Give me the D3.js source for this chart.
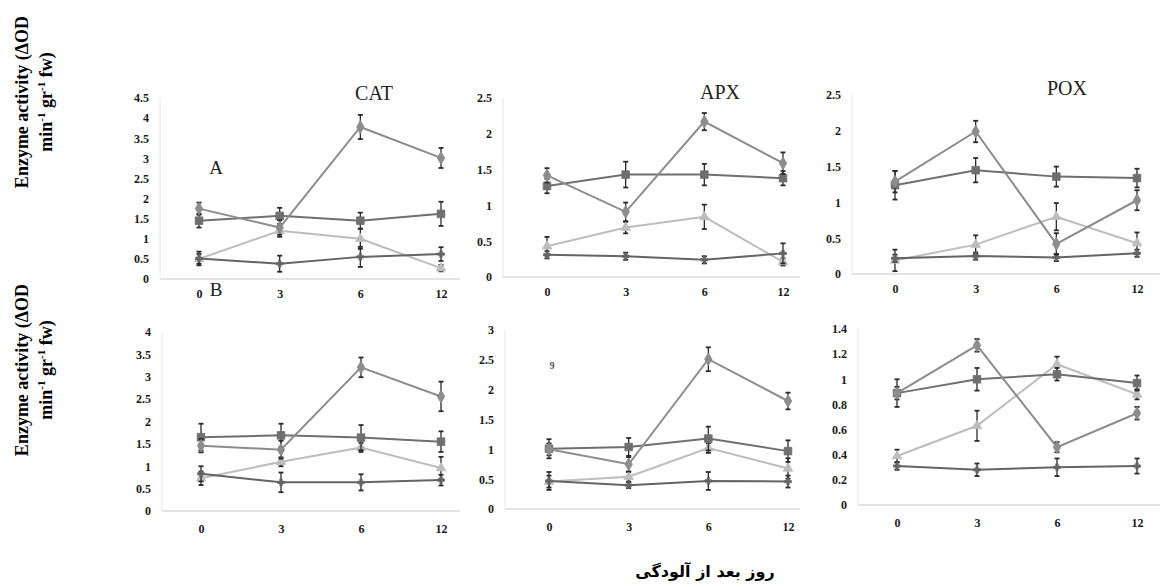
<!DOCTYPE html>
<html><head><meta charset="utf-8">
<script src="https://cdn.jsdelivr.net/npm/d3@7"></script>
<style>
html,body{margin:0;padding:0;background:#fff;}
svg{display:block;}
</style></head>
<body>
<svg id="c" width="1160" height="587"></svg>
<script>
// ---- data ----
const days = ["0", "3", "6", "12"];
const seriesNames = ["T1", "T2", "T3", "T4"];
const panelTitles = ["CAT", "APX", "POX"];
const rowLabels = ["A", "B"];

// order of series: [peak series, square series, light series, bottom series]
const catA = [[1.75,1.28,3.78,3.01],[1.45,1.57,1.45,1.62],[0.50,1.20,1.00,0.27],[0.51,0.38,0.55,0.62]];
const catAErr = [[0.15,0.18,0.30,0.25],[0.17,0.20,0.20,0.30],[0.12,0.15,0.25,0.08],[0.17,0.20,0.25,0.17]];
const apxA = [[1.42,0.91,2.17,1.59],[1.27,1.43,1.43,1.38],[0.43,0.69,0.84,0.21],[0.31,0.29,0.24,0.33]];
const apxAErr = [[0.10,0.13,0.12,0.15],[0.10,0.18,0.15,0.10],[0.13,0.08,0.17,0.05],[0.05,0.05,0.05,0.14]];
const poxA = [[1.29,1.99,0.42,1.03],[1.24,1.45,1.36,1.34],[0.19,0.41,0.80,0.43],[0.22,0.25,0.23,0.29]];
const poxAErr = [[0.15,0.15,0.15,0.14],[0.20,0.17,0.14,0.13],[0.15,0.13,0.19,0.15],[0.05,0.05,0.05,0.05]];
const catB = [[1.46,1.37,3.21,2.56],[1.65,1.69,1.64,1.55],[0.73,1.10,1.42,0.96],[0.83,0.64,0.64,0.69]];
const catBErr = [[0.15,0.20,0.22,0.33],[0.30,0.26,0.28,0.23],[0.15,0.10,0.10,0.25],[0.17,0.22,0.18,0.12]];
const apxB = [[1.00,0.75,2.51,1.81],[1.01,1.04,1.18,0.97],[0.46,0.54,1.02,0.68],[0.47,0.40,0.47,0.46]];
const apxBErr = [[0.10,0.12,0.20,0.14],[0.16,0.15,0.20,0.18],[0.10,0.08,0.08,0.17],[0.15,0.05,0.15,0.10]];
const poxB = [[0.89,1.27,0.46,0.73],[0.89,1.00,1.04,0.97],[0.39,0.63,1.12,0.88],[0.31,0.28,0.30,0.31]];
const poxBErr = [[0.05,0.05,0.04,0.05],[0.11,0.09,0.05,0.06],[0.05,0.12,0.06,0.04],[0.03,0.05,0.07,0.06]];

const ticksCatA = [0,0.5,1,1.5,2,2.5,3,3.5,4,4.5];
const ticksApxA = [0,0.5,1,1.5,2,2.5];
const ticksPoxA = [0,0.5,1,1.5,2,2.5];
const ticksCatB = [0,0.5,1,1.5,2,2.5,3,3.5,4];
const ticksApxB = [0,0.5,1,1.5,2,2.5,3];
const ticksPoxB = [0,0.2,0.4,0.6,0.8,1,1.2,1.4];

const yLabelLine1 = "Enzyme activity (ΔOD";
const xLabel = "روز بعد از آلودگی";

// ---- layout / style ----
const svg = d3.select("#c");
const colors = ["#8c8c8c", "#6f6f6f", "#bdbdbd", "#646464"];
const symbols = [d3.symbolDiamond, d3.symbolSquare, d3.symbolTriangle, d3.symbolCross];
const symSize = [48, 58, 40, 26];
const serif = "Liberation Serif, Times New Roman, serif";

const panels = [
  {vals: catA, errs: catAErr, ticks: ticksCatA, ax: 160, ar: 460, x0: 199, x1: 441, y0: 279, y1: 98, title: panelTitles[0], tx: 374, ty: 100},
  {vals: apxA, errs: apxAErr, ticks: ticksApxA, ax: 503, ar: 800, x0: 547, x1: 783, y0: 277, y1: 98, title: panelTitles[1], tx: 720, ty: 99},
  {vals: poxA, errs: poxAErr, ticks: ticksPoxA, ax: 852, ar: 1160, x0: 895, x1: 1137, y0: 274, y1: 95, title: panelTitles[2], tx: 1067, ty: 95},
  {vals: catB, errs: catBErr, ticks: ticksCatB, ax: 162, ar: 460, x0: 201, x1: 441, y0: 511, y1: 332},
  {vals: apxB, errs: apxBErr, ticks: ticksApxB, ax: 505, ar: 800, x0: 549, x1: 788, y0: 509, y1: 330},
  {vals: poxB, errs: poxBErr, ticks: ticksPoxB, ax: 858, ar: 1160, x0: 897, x1: 1137, y0: 505, y1: 329}
];

panels.forEach((p, pi) => {
  const g = svg.append("g");
  const x = d3.scalePoint().domain(days).range([p.x0, p.x1]);
  const ymax = p.ticks[p.ticks.length - 1];
  const y = d3.scaleLinear().domain([0, ymax]).range([p.y0, p.y1]);

  g.append("line").attr("x1", p.ax).attr("x2", p.ar).attr("y1", y(0)).attr("y2", y(0))
    .attr("stroke", "#c8c8c8").attr("stroke-width", 1.2);
  g.append("line").attr("x1", p.ax).attr("x2", p.ax).attr("y1", y(0)).attr("y2", y(ymax))
    .attr("stroke", "#e6e6e6").attr("stroke-width", 1);

  const ya = g.append("g").attr("transform", `translate(${p.ax},0)`)
    .call(d3.axisLeft(y).tickValues(p.ticks).tickSize(0).tickPadding(11).tickFormat(d3.format("~g")));
  ya.select(".domain").remove();
  ya.attr("font-family", serif);
  ya.selectAll("text").attr("font-family", serif).attr("font-weight", "bold")
    .attr("font-size", 12).attr("fill", "#1a1a1a");

  const xa = g.append("g").attr("transform", `translate(0,${y(0)})`)
    .call(d3.axisBottom(x).tickSize(0).tickPadding(pi < 3 ? 10 : 13));
  xa.select(".domain").remove();
  xa.attr("font-family", serif);
  xa.selectAll("text").attr("font-family", serif).attr("font-weight", "bold")
    .attr("font-size", 12).attr("fill", "#1a1a1a");

  const line = d3.line().x((d, i) => x(days[i])).y(d => y(d));

  [2, 3, 1, 0].forEach(si => {
    const v = p.vals[si], e = p.errs[si];
    g.append("path").datum(v).attr("d", line).attr("fill", "none")
      .attr("stroke", colors[si]).attr("stroke-width", 2);
    v.forEach((d, i) => {
      const cx = x(days[i]);
      g.append("line").attr("x1", cx).attr("x2", cx).attr("y1", y(d - e[i])).attr("y2", y(d + e[i]))
        .attr("stroke", "#2a2a2a").attr("stroke-width", 1.3);
      [d - e[i], d + e[i]].forEach(yy => {
        g.append("line").attr("x1", cx - 2.5).attr("x2", cx + 2.5).attr("y1", y(yy)).attr("y2", y(yy))
          .attr("stroke", "#2a2a2a").attr("stroke-width", 1.8);
      });
    });
    g.selectAll(null).data(v).enter().append("path")
      .attr("d", d3.symbol().type(symbols[si]).size(symSize[si]))
      .attr("transform", (d, i) => `translate(${x(days[i])},${y(d)})`)
      .attr("fill", colors[si]).attr("stroke", colors[si]).attr("stroke-width", 0.8)
      .attr("stroke-linejoin", "round");
  });

  if (p.title) {
    g.append("text").attr("x", p.tx).attr("y", p.ty).attr("text-anchor", "middle")
      .attr("font-family", serif).attr("font-size", 20).attr("fill", "#222")
      .text(p.title);
  }
});

svg.append("text").attr("x", 216).attr("y", 174).attr("text-anchor", "middle")
  .attr("font-family", serif).attr("font-size", 19).attr("fill", "#222").text(rowLabels[0]);
svg.append("text").attr("x", 216).attr("y", 296).attr("text-anchor", "middle")
  .attr("font-family", serif).attr("font-size", 19).attr("fill", "#222").text(rowLabels[1]);
svg.append("text").attr("x", 552).attr("y", 369).attr("text-anchor", "middle")
  .attr("font-family", serif).attr("font-weight", "bold").attr("font-size", 10).attr("fill", "#555").text("9");

function yTitle(cy) {
  const t = svg.append("g").attr("transform", `translate(0,${cy}) rotate(-90)`);
  t.append("text").attr("x", 0).attr("y", 28).attr("text-anchor", "middle")
    .attr("font-family", serif).attr("font-weight", "bold").attr("font-size", 18)
    .attr("fill", "#000").text(yLabelLine1);
  const l2 = t.append("text").attr("x", 0).attr("y", 52).attr("text-anchor", "middle")
    .attr("font-family", serif).attr("font-weight", "bold").attr("font-size", 18)
    .attr("fill", "#000");
  l2.append("tspan").text("min");
  l2.append("tspan").attr("dy", -7).attr("font-size", 11).text("-1");
  l2.append("tspan").attr("dy", 7).text(" gr");
  l2.append("tspan").attr("dy", -7).attr("font-size", 11).text("-1");
  l2.append("tspan").attr("dy", 7).text(" fw)");
}
yTitle(102);
yTitle(370);

svg.append("text").attr("x", 705).attr("y", 577).attr("text-anchor", "middle")
  .attr("font-family", "DejaVu Sans, sans-serif").attr("font-weight", "bold").attr("font-size", 16)
  .attr("fill", "#000").attr("direction", "rtl").text(xLabel);
</script>
</body></html>
